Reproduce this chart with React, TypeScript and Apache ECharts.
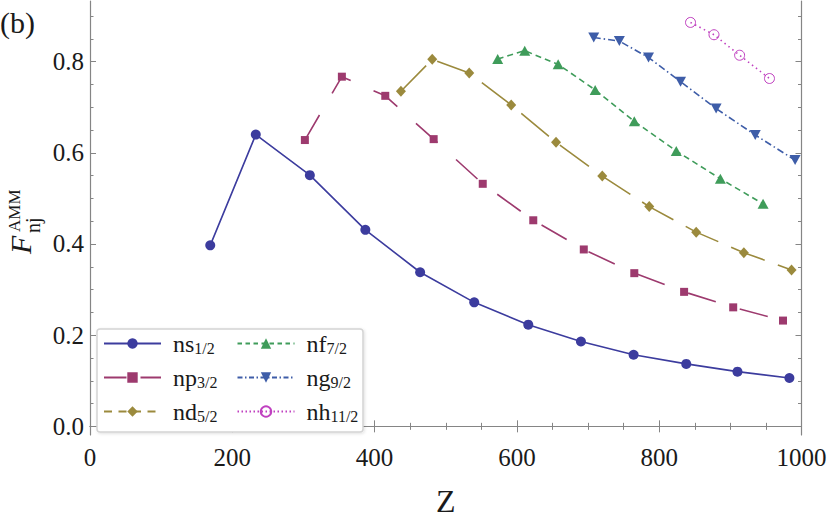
import React, { useEffect, useRef } from 'react';
import * as echarts from 'echarts';

const FONT = '"Liberation Serif", "Times New Roman", serif';

// ---- data ----
const nsZ = [169, 233, 309, 387, 464, 540, 616, 690, 764, 838, 910, 983];
const nsF = [0.397, 0.64, 0.551, 0.431, 0.338, 0.272, 0.223, 0.186, 0.157, 0.137, 0.12, 0.106];
const npZ = [302, 354, 415, 483, 552, 623, 694, 765, 835, 904, 974];
const npF = [0.628, 0.767, 0.725, 0.63, 0.532, 0.452, 0.388, 0.336, 0.295, 0.261, 0.232];
const ndZ = [437, 481, 533, 592, 655, 720, 786, 852, 919, 986];
const ndF = [0.735, 0.805, 0.775, 0.705, 0.623, 0.549, 0.482, 0.426, 0.381, 0.343];
const nfZ = [573, 611, 658, 710, 765, 824, 886, 946];
const nfF = [0.806, 0.824, 0.794, 0.738, 0.669, 0.604, 0.543, 0.488];
const ngZ = [708, 744, 785, 830, 880, 935, 991];
const ngF = [0.853, 0.845, 0.809, 0.756, 0.697, 0.639, 0.584];
const nhZ = [844, 877, 913, 955];
const nhF = [0.886, 0.859, 0.814, 0.763];

const yMajorTicks = [0, 0.2, 0.4, 0.6, 0.8];
const yMinorTicks = [0.05, 0.1, 0.15, 0.25, 0.3, 0.35, 0.45, 0.5, 0.55, 0.65, 0.7, 0.75, 0.85, 0.9];

const seriesNames = ['ns', 'np', 'nd', 'nf', 'ng', 'nh'];
const seriesSubs = ['1/2', '3/2', '5/2', '7/2', '9/2', '11/2'];

const C = {
  ns: '#3c3c9e',
  np: '#9d3a6e',
  nd: '#9b8a3d',
  nf: '#3f9c5a',
  ng: '#3e5da8',
  nh: '#c040c0',
};

const AXIS_COLOR = '#858585';

function pairs(zs: number[], fs: number[]) {
  return zs.map((z, i) => [z, fs[i]]);
}

function mk(name: string, zs: number[], fs: number[], color: string, dash: any, symbol: string, size: any, extra: any = {}) {
  return {
    name,
    type: 'line',
    data: pairs(zs, fs),
    xAxisIndex: 0,
    yAxisIndex: 0,
    symbol,
    symbolSize: size,
    showSymbol: true,
    color,
    lineStyle: { color, width: 1.6, type: dash },
    itemStyle: { color },
    z: 3,
    ...extra,
  };
}

function buildOption() {
  const subMap: Record<string, string> = {};
  seriesNames.forEach((n, i) => (subMap[n] = seriesSubs[i]));
  const legendText = {
    color: '#1a1a1a',
    fontFamily: FONT,
    rich: {
      a: { fontSize: 24, fontFamily: FONT, color: '#1a1a1a', padding: [0, 0, 0, 7], lineHeight: 26 },
      b: { fontSize: 16, fontFamily: FONT, color: '#1a1a1a', padding: [9, 0, 0, 0], lineHeight: 26 },
    },
  };
  const legendCommon = {
    orient: 'vertical',
    top: 331,
    padding: 0,
    itemWidth: 57,
    itemHeight: 13,
    itemGap: 9,
    selectedMode: false,
    formatter: (n: string) => `{a|${n}}{b|${subMap[n]}}`,
    textStyle: legendText,
    z: 5,
  };

  const yCommon = {
    type: 'value',
    min: -0.019,
    max: 0.933,
    splitLine: { show: false },
    axisLabel: { show: false },
    axisTick: { show: false },
    axisLine: { show: false },
  };

  return {
    animation: false,
    backgroundColor: '#fff',
    grid: { left: 90, right: 28.5, top: 1, bottom: 82, containLabel: false },
    xAxis: [
      {
        type: 'value',
        position: 'bottom',
        min: 0,
        max: 1000,
        interval: 200,
        name: 'Z',
        nameLocation: 'middle',
        nameGap: 50,
        nameTextStyle: { fontSize: 32, fontFamily: FONT, color: '#1a1a1a' },
        axisLine: { show: true, lineStyle: { color: AXIS_COLOR, width: 1.2 } },
        axisTick: { show: true, inside: true, length: 6, lineStyle: { color: AXIS_COLOR } },
        minorTick: { show: true, splitNumber: 4, length: 3.5, lineStyle: { color: AXIS_COLOR } },
        axisLabel: {
          fontSize: 25,
          fontFamily: FONT,
          color: '#1a1a1a',
          margin: 10,
          formatter: (v: number) => String(Math.round(v)),
        },
        splitLine: { show: false },
      },
      {
        type: 'value',
        position: 'top',
        min: 0,
        max: 1000,
        interval: 200,
        axisLine: { show: true, lineStyle: { color: AXIS_COLOR, width: 1.2 } },
        axisTick: { show: true, inside: true, length: 6, lineStyle: { color: AXIS_COLOR } },
        minorTick: { show: true, splitNumber: 4, length: 3.5, lineStyle: { color: AXIS_COLOR } },
        axisLabel: { show: false },
        splitLine: { show: false },
      },
    ],
    yAxis: [
      {
        ...yCommon,
        position: 'left',
        axisLine: { show: true, lineStyle: { color: AXIS_COLOR, width: 1.2 } },
        axisTick: { show: true, inside: true, length: 6, customValues: yMajorTicks, lineStyle: { color: AXIS_COLOR } },
        axisLabel: {
          show: true,
          customValues: yMajorTicks,
          formatter: (v: number) => v.toFixed(1),
          fontSize: 25,
          fontFamily: FONT,
          color: '#1a1a1a',
          margin: 6,
        },
      },
      {
        ...yCommon,
        position: 'left',
        axisTick: { show: true, inside: true, length: 3.5, customValues: yMinorTicks, lineStyle: { color: AXIS_COLOR } },
      },
      {
        ...yCommon,
        position: 'right',
        axisLine: { show: true, lineStyle: { color: AXIS_COLOR, width: 1.2 } },
        axisTick: { show: true, inside: true, length: 6, customValues: yMajorTicks, lineStyle: { color: AXIS_COLOR } },
      },
      {
        ...yCommon,
        position: 'right',
        axisTick: { show: true, inside: true, length: 3.5, customValues: yMinorTicks, lineStyle: { color: AXIS_COLOR } },
      },
    ],
    legend: [
      {
        ...legendCommon,
        left: 103,
        data: [
          { name: 'ns' },
          { name: 'np', lineStyle: { type: [22.5, 14] } },
          { name: 'nd', lineStyle: { type: [8, 6.5] } },
        ],
      },
      {
        ...legendCommon,
        left: 236.5,
        data: [
          { name: 'nf', lineStyle: { type: [4.5, 3.5] } },
          { name: 'ng', lineStyle: { type: [5, 2.5, 1.5, 2.5] } },
          { name: 'nh', lineStyle: { type: [1.5, 2.5] } },
        ],
      },
    ],
    graphic: [
      {
        type: 'rect',
        z: 4,
        shape: { x: 97, y: 329, width: 266, height: 103, r: 3 },
        style: {
          fill: '#ffffff',
          stroke: '#d4d4d4',
          lineWidth: 1.5,
          shadowBlur: 3,
          shadowColor: 'rgba(0,0,0,0.12)',
          shadowOffsetY: 1,
          shadowOffsetX: 1,
        },
      },
      {
        type: 'text',
        left: 0,
        top: 7,
        style: { text: '(b)', fontSize: 30, fontFamily: FONT, fill: '#1a1a1a' },
      },
      {
        type: 'group',
        x: 29,
        y: 254,
        rotation: Math.PI / 2,
        children: [
          {
            type: 'text',
            x: 0,
            y: -9,
            style: {
              text: 'F',
              fontSize: 30,
              fontStyle: 'italic',
              fontFamily: FONT,
              fill: '#1a1a1a',
              verticalAlign: 'middle',
              align: 'left',
            },
          },
          {
            type: 'text',
            x: 21,
            y: 4,
            style: {
              text: 'nj',
              fontSize: 20,
              fontFamily: FONT,
              fill: '#1a1a1a',
              verticalAlign: 'middle',
              align: 'left',
            },
          },
          {
            type: 'text',
            x: 22,
            y: -15,
            style: {
              text: 'AMM',
              fontSize: 17,
              fontFamily: FONT,
              fill: '#1a1a1a',
              verticalAlign: 'middle',
              align: 'left',
            },
          },
        ],
      },
    ],
    series: [
      mk('ns', nsZ, nsF, C.ns, 'solid', 'circle', 10, {
        markLine: {
          silent: true,
          symbol: 'none',
          label: { show: false },
          lineStyle: { color: '#dcdcdc', width: 1, type: 'solid' },
          data: [{ yAxis: 0 }],
          z: 0,
        },
      }),
      mk('np', npZ, npF, C.np, [29, 25], 'rect', 8),
      mk('nd', ndZ, ndF, C.nd, [36, 14], 'diamond', [10, 11]),
      mk('nf', nfZ, nfF, C.nf, [6, 4], 'triangle', [11, 10]),
      mk('ng', ngZ, ngF, C.ng, [7, 3, 1.5, 3], 'triangle', [11, 10], { symbolRotate: 180 }),
      mk('nh', nhZ, nhF, C.nh, [1.5, 3.5], 'circle', 10, {
        itemStyle: { color: 'rgba(255,255,255,0)', borderColor: C.nh, borderWidth: 1 },
      }),
    ],
  };
}

export default function App() {
  const ref = useRef<HTMLDivElement>(null);
  useEffect(() => {
    if (!ref.current) return;
    const chart = echarts.init(ref.current, null, { renderer: 'svg' });
    chart.setOption(buildOption() as any);
    return () => {
      chart.dispose();
    };
  }, []);
  return (
    <div
      ref={ref}
      style={{ position: 'fixed', left: 0, top: 0, width: 830, height: 522, background: '#fff' }}
    />
  );
}
